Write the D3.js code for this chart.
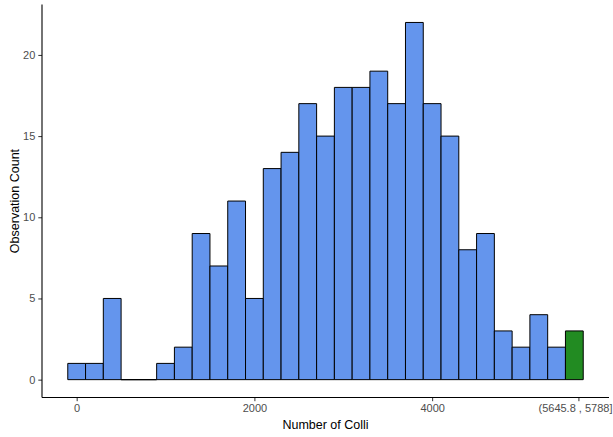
<!DOCTYPE html>
<html>
<head>
<meta charset="utf-8">
<script src="https://cdn.jsdelivr.net/npm/d3@7"></script>
<style>
  html, body { margin: 0; padding: 0; background: #fff; }
  svg { display: block; font-family: "Liberation Sans", Arial, sans-serif; }
</style>
</head>
<body>
<svg id="chart" width="613" height="437"></svg>
<script>
// Histogram of colli counts: bin centres (width 200) and observation counts
const binCenters = [0, 200, 400, 600, 800, 1000, 1200, 1400, 1600, 1800,
  2000, 2200, 2400, 2600, 2800, 3000, 3200, 3400, 3600, 3800,
  4000, 4200, 4400, 4600, 4800, 5000, 5200, 5400, 5600];
const counts = [1, 1, 5, 0, 0, 1, 2, 9, 7, 11,
  5, 13, 14, 17, 15, 18, 18, 19, 17, 22,
  17, 15, 8, 9, 3, 2, 4, 2, 3];
const binWidth = 200;
// the last bin is highlighted
const highlightIndex = 28;

const xTickValues = [0, 2000, 4000, 5645.8];
const xTickLabels = ["0", "2000", "4000", "(5645.8 , 5788]"];
const yTickValues = [0, 5, 10, 15, 20];

const xTitle = "Number of Colli";
const yTitle = "Observation Count";

const W = 613;
const panel = { left: 42, right: 609, top: 4.6, bottom: 397.5 };

const svg = d3.select("#chart");

const x = d3.scaleLinear().domain([-390, 5990]).range([panel.left, panel.right]);
const y = d3.scaleLinear().domain([-1.1, 23.1]).range([panel.bottom, panel.top]);

const bins = binCenters.map((c, i) => ({ x0: c - binWidth / 2, x1: c + binWidth / 2, n: counts[i], i }));

// bars as closed paths so that empty bins still show their outline on the baseline
svg.append("g")
  .selectAll("path")
  .data(bins)
  .join("path")
  .attr("d", d => {
    const p = d3.path();
    p.rect(x(d.x0), y(d.n), x(d.x1) - x(d.x0), y(0) - y(d.n));
    if (d.n === 0) { p.moveTo(x(d.x0), y(0)); p.lineTo(x(d.x1), y(0)); }
    return p.toString();
  })
  .attr("fill", d => d.i === highlightIndex ? "#228B22" : "#6495ED")
  .attr("stroke", "#000")
  .attr("stroke-width", 1);

// axes
const xAxis = d3.axisBottom(x)
  .tickValues(xTickValues)
  .tickFormat((d, i) => xTickLabels[i])
  .tickSize(3.7)
  .tickPadding(3);
const yAxis = d3.axisLeft(y)
  .tickValues(yTickValues)
  .tickFormat(d3.format("d"))
  .tickSize(3.7)
  .tickPadding(3);

const gx = svg.append("g").attr("transform", `translate(0,${panel.bottom})`).call(xAxis);
const gy = svg.append("g").attr("transform", `translate(${panel.left},0)`).call(yAxis);

[gx, gy].forEach(g => {
  g.select(".domain").remove();
  g.selectAll(".tick line").attr("stroke", "#333").attr("stroke-width", 1);
  g.selectAll(".tick text")
    .attr("fill", "#4D4D4D")
    .style("font-size", "11px")
    .style("font-family", "Liberation Sans, Arial, sans-serif");
});

// keep the long interval label inside the right edge
gx.selectAll(".tick text")
  .filter((d, i) => i === xTickValues.length - 1)
  .each(function (d) {
    const w = this.getComputedTextLength();
    const overflow = x(d) + w / 2 - (W - 1);
    if (overflow > 0) d3.select(this).attr("x", -overflow);
  });

// axis lines
svg.append("line")
  .attr("x1", panel.left).attr("x2", panel.right)
  .attr("y1", panel.bottom).attr("y2", panel.bottom)
  .attr("stroke", "#000").attr("stroke-width", 1.1);
svg.append("line")
  .attr("x1", panel.left).attr("x2", panel.left)
  .attr("y1", panel.top).attr("y2", panel.bottom)
  .attr("stroke", "#000").attr("stroke-width", 1.1);

// titles
svg.append("text")
  .attr("x", (panel.left + panel.right) / 2)
  .attr("y", 429)
  .attr("text-anchor", "middle")
  .style("font-size", "12.5px")
  .attr("fill", "#000")
  .text(xTitle);

svg.append("text")
  .attr("transform", `translate(19,${(panel.top + panel.bottom) / 2}) rotate(-90)`)
  .attr("text-anchor", "middle")
  .style("font-size", "12.5px")
  .attr("fill", "#000")
  .text(yTitle);
</script>
</body>
</html>
